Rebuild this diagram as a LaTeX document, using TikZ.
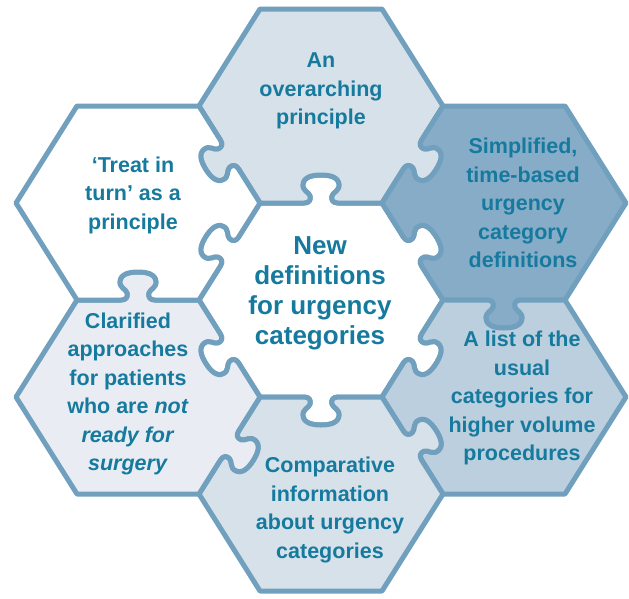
\documentclass[tikz,border=0pt]{standalone}
\usepackage{fontspec}
\setmainfont{Liberation Sans}
\usetikzlibrary{calc}
\definecolor{edgec}{RGB}{112,160,189}
\definecolor{txtc}{RGB}{22,122,158}
\definecolor{fT}{RGB}{214,225,234}
\definecolor{fRU}{RGB}{135,172,199}
\definecolor{fRL}{RGB}{188,207,222}
\definecolor{fB}{RGB}{214,225,234}
\definecolor{fLL}{RGB}{233,237,243}
\tikzset{
 kedge/.style n args={3}{insert path={
  -- ($(#1)!.5!(#2)!-17pt!(#2)$)
  .. controls ($(#1)!.5!(#2)!-12pt!(#2)$)
           and ($(#1)!.5!(#2)!-10pt!(#2)!3pt!#3:(#2)$)
  .. ($(#1)!.5!(#2)!-11pt!(#2)!7pt!#3:(#2)$)
  .. controls ($(#1)!.5!(#2)!-12pt!(#2)!11pt!#3:(#2)$)
           and ($(#1)!.5!(#2)!-19pt!(#2)!12pt!#3:(#2)$)
  .. ($(#1)!.5!(#2)!-18pt!(#2)!19pt!#3:(#2)$)
  .. controls ($(#1)!.5!(#2)!-17pt!(#2)!26pt!#3:(#2)$)
           and ($(#1)!.5!(#2)!-9pt!(#2)!28pt!#3:(#2)$)
  .. ($(#1)!.5!(#2)!0pt!(#2)!28pt!#3:(#2)$)
  .. controls ($(#1)!.5!(#2)!9pt!(#2)!28pt!#3:(#2)$)
           and ($(#1)!.5!(#2)!17pt!(#2)!26pt!#3:(#2)$)
  .. ($(#1)!.5!(#2)!18pt!(#2)!19pt!#3:(#2)$)
  .. controls ($(#1)!.5!(#2)!19pt!(#2)!12pt!#3:(#2)$)
           and ($(#1)!.5!(#2)!12pt!(#2)!11pt!#3:(#2)$)
  .. ($(#1)!.5!(#2)!11pt!(#2)!7pt!#3:(#2)$)
  .. controls ($(#1)!.5!(#2)!10pt!(#2)!3pt!#3:(#2)$)
           and ($(#1)!.5!(#2)!12pt!(#2)$)
  .. ($(#1)!.5!(#2)!17pt!(#2)$)
  -- (#2)
 }},
 hexs/.style={draw=edgec, line width=5pt, line join=round},
 lbl/.style={text=txtc, align=center, inner sep=0pt,
   font=\fontsize{21.5}{28.5}\selectfont\bfseries},
 bigl/.style={text=txtc, align=center, inner sep=0pt,
   font=\fontsize{26}{30}\selectfont\bfseries},
}
\begin{document}
\begin{tikzpicture}[x=1pt,y=-1pt]
\useasboundingbox (0,0) rectangle (629,598);
\foreach \n/\cx/\cy in {C/321/300, T/321/106, B/321/494, LU/138/203, LL/138/397, RU/504/203, RL/504/397} {
  \coordinate (\n1) at (\cx-61,\cy-97);
  \coordinate (\n2) at (\cx+61,\cy-97);
  \coordinate (\n3) at (\cx+122,\cy);
  \coordinate (\n4) at (\cx+61,\cy+97);
  \coordinate (\n5) at (\cx-61,\cy+97);
  \coordinate (\n6) at (\cx-122,\cy);
}
% centre
\path[hexs, fill=white] (C1) [kedge={C1}{C2}{90}] [kedge={C2}{C3}{90}] [kedge={C3}{C4}{90}]
  [kedge={C4}{C5}{90}] [kedge={C5}{C6}{90}] [kedge={C6}{C1}{90}] -- cycle;
% top
\path[hexs, fill=fT] (T1) -- (T2) -- (T3) [kedge={T3}{T4}{90}] [kedge={T4}{T5}{-90}]
  [kedge={T5}{T6}{90}] -- (T1) -- cycle;
% right upper
\path[hexs, fill=fRU] (RU1) -- (RU2) -- (RU3) -- (RU4) [kedge={RU4}{RU5}{90}]
  [kedge={RU5}{RU6}{-90}] [kedge={RU6}{RU1}{-90}] -- cycle;
% right lower
\path[hexs, fill=fRL] (RL1) [kedge={RL1}{RL2}{-90}] -- (RL3) -- (RL4) -- (RL5)
  [kedge={RL5}{RL6}{-90}] [kedge={RL6}{RL1}{-90}] -- cycle;
% bottom
\path[hexs, fill=fB] (B1) [kedge={B1}{B2}{-90}] [kedge={B2}{B3}{90}] -- (B4) -- (B5) -- (B6)
  [kedge={B6}{B1}{-90}] -- cycle;
% left lower
\path[hexs, fill=fLL] (LL1) [kedge={LL1}{LL2}{90}] [kedge={LL2}{LL3}{-90}] [kedge={LL3}{LL4}{90}]
  -- (LL5) -- (LL6) -- (LL1) -- cycle;
% left upper
\path[hexs, fill=white] (LU1) -- (LU2) [kedge={LU2}{LU3}{-90}] [kedge={LU3}{LU4}{-90}]
  [kedge={LU4}{LU5}{-90}] -- (LU6) -- (LU1) -- cycle;

\node[lbl] (tT) at (321,91) {An\\overarching\\principle};
\node[lbl] (tLU) at (133,195) {‘Treat in\\turn’ as a\\principle};
\node[lbl] (tRU) at (523,203) {Simplified,\\time-based\\urgency\\category\\definitions};
\node[bigl] (tC) at (320,293) {New\\definitions\\for urgency\\categories};
\node[lbl] (tRL) at (522,398) {A list of the\\usual\\categories for\\higher volume\\procedures};
\node[lbl] (tLL) at (128,394) {Clarified\\approaches\\for patients\\who are \textit{not}\\\textit{ready for}\\\textit{surgery}};
\node[lbl] (tB) at (330,510) {Comparative\\information\\about urgency\\categories};
\end{tikzpicture}
\end{document}
